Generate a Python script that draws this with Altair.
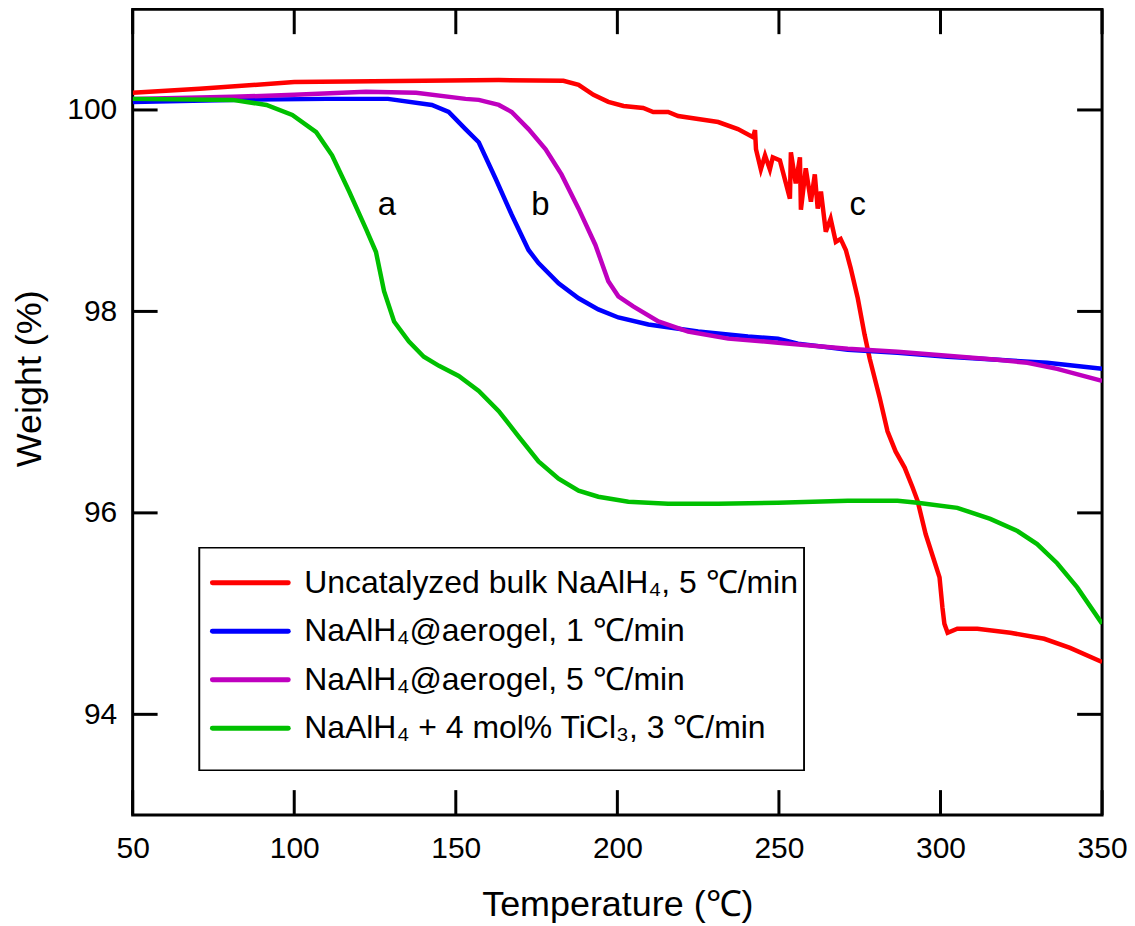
import altair as alt
import pandas as pd

# ---- data ----
red_T = [50, 70.7, 100, 132.4, 163.3, 183.3, 188, 192.6, 197.2, 201.9, 208, 211.1, 215.7, 218.8, 225, 231.2, 237.3, 242,
         242.6, 242.9, 244.4, 245.7, 247.2, 248.1, 250.3, 253.4, 253.7, 255.2, 256.5, 256.8, 258.3, 259.9, 261.1, 262.0,
         263.0, 264.5, 266.0, 267.6, 269.1, 270.7, 272.2, 274.4, 276.5, 278.1, 281.2, 283.6, 286.1, 288.9, 291.4, 292.9,
         295.4, 298.1, 299.7, 300.6, 301.2, 302.2, 305.2, 311.4, 321.6, 332.1, 340.1, 350]
red_W = [100.17, 100.21, 100.277, 100.287, 100.297, 100.29, 100.25, 100.15, 100.08, 100.04, 100.02, 99.98, 99.98, 99.94,
         99.91, 99.88, 99.81, 99.73, 99.80, 99.61, 99.41, 99.55, 99.41, 99.53, 99.50, 99.12, 99.58, 99.27, 99.53, 99.01,
         99.42, 99.09, 99.36, 99.02, 99.19, 98.79, 98.92, 98.69, 98.72, 98.61, 98.43, 98.13, 97.77, 97.53, 97.14, 96.81,
         96.61, 96.45, 96.25, 96.12, 95.79, 95.52, 95.36, 95.06, 94.90, 94.81, 94.85, 94.85, 94.81, 94.75, 94.66, 94.52]

blue_T = [50, 80, 110, 129, 142.6, 147.8, 153, 157.1, 162.3, 167.3, 172.5, 175.6, 181.8, 188, 194.1, 200.3, 209.6, 225,
          240.4, 249.7, 255.9, 271.3, 286.7, 302.2, 317.6, 333, 350]
blue_W = [100.08, 100.10, 100.11, 100.11, 100.05, 99.98, 99.81, 99.68, 99.32, 98.96, 98.61, 98.48, 98.28, 98.13, 98.02,
          97.94, 97.87, 97.80, 97.75, 97.73, 97.68, 97.62, 97.59, 97.55, 97.52, 97.49, 97.43]

purple_T = [50, 80.9, 100, 122.2, 137.7, 153, 157.1, 163.3, 167.3, 172.5, 177.8, 182.7, 188, 193.2, 197.2, 200.3, 204.9,
            212.7, 221.9, 234.3, 249.7, 271.3, 286.7, 302.2, 317.6, 326.9, 336.1, 350]
purple_W = [100.11, 100.13, 100.15, 100.18, 100.17, 100.11, 100.10, 100.05, 99.98, 99.81, 99.61, 99.36, 99.02, 98.66,
            98.30, 98.15, 98.05, 97.90, 97.80, 97.73, 97.69, 97.63, 97.60, 97.56, 97.52, 97.49, 97.43, 97.31]

green_T = [50, 80.9, 91.4, 99.4, 106.8, 111.7, 117, 122.2, 125.3, 127.8, 130.9, 135.5, 140.1, 144.8, 150.9, 157.1, 163.3,
           169.4, 175.6, 181.8, 188, 194.1, 203.4, 215.7, 231.2, 249.7, 271.3, 286.7, 292.9, 305.2, 315.4, 323.8, 329.9,
           336.1, 342.3, 350]
green_W = [100.11, 100.10, 100.05, 99.95, 99.78, 99.55, 99.19, 98.82, 98.59, 98.20, 97.90, 97.70, 97.55, 97.46, 97.36,
           97.21, 97.01, 96.76, 96.51, 96.34, 96.22, 96.16, 96.11, 96.09, 96.09, 96.10, 96.12, 96.12, 96.10, 96.05, 95.94,
           95.82, 95.69, 95.50, 95.26, 94.90]

series_names = [
    "Uncatalyzed bulk NaAlH\u2084, 5 \u2103/min",
    "NaAlH\u2084@aerogel, 1 \u2103/min",
    "NaAlH\u2084@aerogel, 5 \u2103/min",
    "NaAlH\u2084 + 4 mol% TiCl\u2083, 3 \u2103/min",
]
series_colors = ["#ff0000", "#0000ff", "#bf00bf", "#00c000"]

x_ticks = [50, 100, 150, 200, 250, 300, 350]
y_ticks = [94, 96, 98, 100]

ann_labels = ["a", "b", "c"]
ann_T = [128.7, 176.2, 274.4]
ann_W = [99.06, 99.06, 99.06]

# ---- build tables ----
rows = []
for name, T, W in zip(series_names, [red_T, blue_T, purple_T, green_T], [red_W, blue_W, purple_W, green_W]):
    for i, (t, w) in enumerate(zip(T, W)):
        rows.append({"series": name, "T": t, "W": w, "i": i})
df = pd.DataFrame(rows)

xt = pd.DataFrame({"T": x_ticks})
yt = pd.DataFrame({"W": y_ticks})
ann = pd.DataFrame({"lab": ann_labels, "T": ann_T, "W": ann_W})
leg = pd.DataFrame({"series": series_names, "row": list(range(len(series_names)))})

FONT = "Liberation Sans, Arial, Helvetica, sans-serif"
W_PX, H_PX = 972, 808
xscale = alt.Scale(domain=[50, 350], nice=False, zero=False)
yscale = alt.Scale(domain=[93, 101], nice=False, zero=False)
cscale = alt.Scale(domain=series_names, range=series_colors)

X_AX = alt.X("T:Q", scale=xscale, title="Temperature (\u2103)",
             axis=alt.Axis(values=x_ticks, format="d", labelPadding=19, titlePadding=24,
                           labelFlush=False, labelOverlap=False))
Y_AX = alt.Y("W:Q", scale=yscale, title="Weight (%)",
             axis=alt.Axis(values=y_ticks, format="d", labelPadding=16, titleX=-84, titleY=370,
                           titleBaseline="bottom", titleAngle=270,
                           labelFlush=False, labelOverlap=False))

lines = alt.Chart(df).mark_line(strokeWidth=4.5, clip=True).encode(
    x=X_AX, y=Y_AX,
    color=alt.Color("series:N", scale=cscale, legend=None),
    order="i:Q",
)

tick_style = dict(color="black", strokeWidth=3)
xt_bot = alt.Chart(xt).mark_rule(**tick_style).encode(x=X_AX, y=alt.value(H_PX), y2=alt.value(H_PX - 25))
xt_top = alt.Chart(xt).mark_rule(**tick_style).encode(x=X_AX, y=alt.value(0), y2=alt.value(25))
yt_left = alt.Chart(yt).mark_rule(**tick_style).encode(y=Y_AX, x=alt.value(0), x2=alt.value(25))
yt_right = alt.Chart(yt).mark_rule(**tick_style).encode(y=Y_AX, x=alt.value(W_PX), x2=alt.value(W_PX - 25))

texts = alt.Chart(ann).mark_text(fontSize=33, font=FONT, color="black").encode(x=X_AX, y=Y_AX, text="lab:N")

# ---- legend (drawn inside the plot) ----
row_off = alt.YOffset("row:Q", scale=alt.Scale(domain=[0, 3], range=[0, 146]))
leg_box = alt.Chart(leg).mark_rect(fill="white", stroke="black", strokeWidth=1.5).encode(
    x=alt.value(67), x2=alt.value(673), y=alt.value(540), y2=alt.value(763))
leg_sym = alt.Chart(leg).mark_rule(strokeWidth=5, strokeCap="round").encode(
    x=alt.value(80), x2=alt.value(156), y=alt.value(575), yOffset=row_off,
    color=alt.Color("series:N", scale=cscale, legend=None))
leg_txt = alt.Chart(leg).mark_text(align="left", baseline="middle", fontSize=32, font=FONT, color="black").encode(
    x=alt.value(172), y=alt.value(575), yOffset=row_off, text="series:N")

chart = alt.layer(lines, xt_bot, xt_top, yt_left, yt_right, texts, leg_box, leg_sym, leg_txt).properties(
    width=W_PX, height=H_PX,
    autosize=alt.AutoSizeParams(type="none"),
    padding={"left": 125, "top": 0, "right": 25, "bottom": 110},
).configure_view(
    stroke="black", strokeWidth=3
).configure_axis(
    domain=False, ticks=False, grid=False,
    labelFontSize=30, labelFont=FONT, labelColor="black",
    titleFontSize=36, titleFont=FONT, titleFontWeight="normal", titleColor="black",
)

chart.save("out.html", embed_options={"renderer": "svg", "actions": False})
